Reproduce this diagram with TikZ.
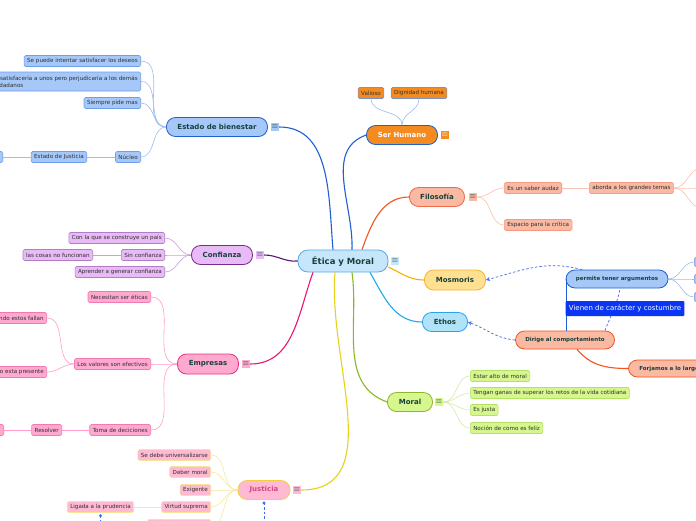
\documentclass[tikz,border=0pt]{standalone}
\usepackage{fontspec}
\setmainfont{DejaVu Sans}
\usetikzlibrary{arrows.meta}

\definecolor{bienfill}{HTML}{A6C8F8}
\definecolor{bienline}{HTML}{1E5FD2}
\definecolor{bienleaf}{HTML}{6E9FEA}
\definecolor{bientwig}{HTML}{9CBDF1}
\definecolor{eticafill}{HTML}{C6E6FB}
\definecolor{eticaline}{HTML}{5AA6E0}
\definecolor{topictext}{HTML}{17403A}
\definecolor{leaftext}{HTML}{2E2E2E}
\definecolor{conffill}{HTML}{E8BAF6}
\definecolor{confline}{HTML}{7A2A8C}
\definecolor{confbranch}{HTML}{5C1470}
\definecolor{confleaf}{HTML}{B47CC8}
\definecolor{conftwig}{HTML}{CC9EDC}
\definecolor{emprfill}{HTML}{FFA8D0}
\definecolor{emprline}{HTML}{E8347F}
\definecolor{emprbranch}{HTML}{EC1470}
\definecolor{emprleaf}{HTML}{F27AB0}
\definecolor{emprtwig}{HTML}{FF9CC8}
\definecolor{justfill}{HTML}{FFB9D2}
\definecolor{justline}{HTML}{F0D040}
\definecolor{justtext}{HTML}{D3488A}
\definecolor{justbranch}{HTML}{E8D218}
\definecolor{justleaf}{HTML}{F7E49A}
\definecolor{justtwig}{HTML}{F6E8A2}
\definecolor{serhfill}{HTML}{F38B20}
\definecolor{serhleaf}{HTML}{7A93C4}
\definecolor{filofill}{HTML}{F9B9A3}
\definecolor{filoline}{HTML}{EF6A4A}
\definecolor{filobranch}{HTML}{F2541E}
\definecolor{filoleaf}{HTML}{F29A82}
\definecolor{filotwig}{HTML}{FBC0AE}
\definecolor{mosmfill}{HTML}{FFDF90}
\definecolor{mosmline}{HTML}{F5B62A}
\definecolor{mosmbranch}{HTML}{F6B000}
\definecolor{ethosfill}{HTML}{B1E3F8}
\definecolor{ethosline}{HTML}{2AA3EC}
\definecolor{ethosbranch}{HTML}{1FA8EE}
\definecolor{moralfill}{HTML}{D6F78E}
\definecolor{moralline}{HTML}{8CB82A}
\definecolor{moralbranch}{HTML}{8AB820}
\definecolor{moralleaf}{HTML}{B5E068}
\definecolor{moraltwig}{HTML}{D5EAA5}
\definecolor{relblue}{HTML}{3F6DF0}
\definecolor{vienenfill}{HTML}{0A35F5}

\begin{document}
\begin{tikzpicture}[x=1pt,y=1pt,
  leaf/.style={draw, rounded corners=1.5pt, line width=0.6pt, inner xsep=3pt, inner ysep=0pt,
    minimum height=11pt, font=\fontsize{5.6}{6.6}\selectfont, text=leaftext},
  topic/.style={draw, rounded corners=9pt, line width=0.8pt, minimum height=19pt,
    font=\bfseries\fontsize{7}{8}\selectfont, text=topictext},
  small topic/.style={topic, minimum height=18pt, font=\bfseries\fontsize{5.5}{6}\selectfont},
  menu/.style={fill=#1, inner sep=0pt, minimum size=8pt, font=\fontsize{8}{8}\selectfont, text=topictext},
  branch/.style={line width=1.1pt},
  twig/.style={line width=0.6pt},
  relation/.style={line width=0.7pt, relblue, dash pattern=on 2.5pt off 2pt, -{Stealth[length=4pt,width=4pt]}}]
\clip (0,0) rectangle (696,-520);
\fill[white] (0,0) rectangle (696,-520);

% centre
\node[topic, fill=eticafill, draw=eticaline, minimum width=90pt, minimum height=22pt, rounded corners=10pt,
  font=\bfseries\fontsize{8.5}{10}\selectfont] (etica) at (343,-261) {Ética y Moral};
\node[menu=eticafill] (eticaM) at (395,-261) {$\equiv$};

% Estado de bienestar
\node[topic, fill=bienfill, draw=bienline, minimum width=101pt] (bien) at (217,-127) {Estado de bienestar};
\node[menu=bienfill] (bienM) at (275,-127) {$\equiv$};
\node[leaf, fill=bienfill, draw=bienleaf, anchor=east] (deseos) at (141,-61) {Se puede intentar satisfacer los deseos};
\node[leaf, fill=bienfill, draw=bienleaf, anchor=east, align=left, minimum height=19pt] (demas) at (141,-81.5)
  {Se satisfacería a unos pero perjudicaría a los demás\\ciudadanos};
\node[leaf, fill=bienfill, draw=bienleaf, anchor=east] (pide) at (141,-103) {Siempre pide mas};
\node[leaf, fill=bienfill, draw=bienleaf, anchor=east] (nucleo) at (141,-157) {Núcleo};
\node[leaf, fill=bienfill, draw=bienleaf, anchor=east] (ejust) at (87,-157) {Estado de Justicia};
\node[leaf, fill=bienfill, draw=bienleaf, anchor=east, minimum width=40pt] (ejustL) at (3,-157) {};
\draw[branch, bienline] ([xshift=-10pt]etica.north) to[out=95,in=0] (bienM.east);
\foreach \n in {deseos,demas,pide,nucleo}
  \draw[twig, bientwig] (bien.west) to[out=180,in=0] (\n.east);
\draw[twig, bientwig] (nucleo.west) -- (ejust.east);
\draw[twig, bientwig] (ejust.west) -- (ejustL.east);

% Confianza
\node[topic, fill=conffill, draw=confline, minimum width=61pt] (conf) at (222,-255) {Confianza};
\node[menu=conffill] (confM) at (260,-255) {$\equiv$};
\node[leaf, fill=conffill, draw=confleaf, anchor=east] (pais) at (165,-238) {Con la que se construye un país};
\node[leaf, fill=conffill, draw=confleaf, anchor=east] (sinconf) at (165,-255) {Sin confianza};
\node[leaf, fill=conffill, draw=confleaf, anchor=east] (generar) at (165,-272) {Aprender a generar confianza};
\node[leaf, fill=conffill, draw=confleaf, anchor=east] (funcionan) at (93,-255) {las cosas no funcionan};
\draw[branch, confbranch] (etica.west) to[out=185,in=0] (confM.east);
\foreach \n in {pais,sinconf,generar}
  \draw[twig, conftwig] (conf.west) to[out=180,in=0] (\n.east);
\draw[twig, conftwig] (sinconf.west) -- (funcionan.east);

% Empresas
\node[topic, fill=emprfill, draw=emprline, minimum width=61pt, minimum height=20pt] (empr) at (208,-364) {Empresas};
\node[menu=emprfill] (emprM) at (246,-364) {$\equiv$};
\node[leaf, fill=emprfill, draw=emprleaf, anchor=east] (eticas) at (151,-297) {Necesitan ser éticas};
\node[leaf, fill=emprfill, draw=emprleaf, anchor=east] (valores) at (151,-364) {Los valores son efectivos};
\node[leaf, fill=emprfill, draw=emprleaf, anchor=east] (toma) at (151,-430) {Toma de deciciones};
\node[leaf, fill=emprfill, draw=emprleaf, anchor=east] (fallan) at (47,-318) {Cuando estos fallan};
\node[leaf, fill=emprfill, draw=emprleaf, anchor=east] (presente) at (47,-372) {Cuando esta presente};
\node[leaf, fill=emprfill, draw=emprleaf, anchor=east] (resolver) at (62,-430) {Resolver};
\node[leaf, fill=emprfill, draw=emprleaf, anchor=east, minimum width=40pt] (resolverL) at (4,-430) {};
\draw[branch, emprbranch] ([xshift=-30pt]etica.south) to[out=-110,in=0] (emprM.east);
\foreach \n in {eticas,valores,toma}
  \draw[twig, emprtwig] (empr.west) to[out=180,in=0] (\n.east);
\foreach \n in {fallan,presente}
  \draw[twig, emprtwig] (valores.west) to[out=180,in=0] (\n.east);
\draw[twig, emprtwig] (toma.west) -- (resolver.east);
\draw[twig, emprtwig] (resolver.west) -- (resolverL.east);

% Justicia
\node[topic, fill=justfill, draw=justline, text=justtext, minimum width=52pt] (just) at (264,-490) {Justicia};
\node[menu=justfill] (justM) at (297,-490) {$\equiv$};
\node[leaf, fill=justfill, draw=justleaf, anchor=east] (univ) at (211,-455) {Se debe universalizarse};
\node[leaf, fill=justfill, draw=justleaf, anchor=east] (deber) at (211,-472) {Deber moral};
\node[leaf, fill=justfill, draw=justleaf, anchor=east] (exig) at (211,-490) {Exigente};
\node[leaf, fill=justfill, draw=justleaf, anchor=east] (virtud) at (211,-507) {Virtud suprema};
\node[leaf, fill=justfill, draw=justleaf, anchor=north east, minimum width=63pt] (justL) at (211,-519) {};
\node[leaf, fill=justfill, draw=justleaf, anchor=east] (prudencia) at (134,-507) {Ligada a la prudencia};
\draw[branch, justbranch] ([xshift=-8pt]etica.south) to[out=-95,in=0] (justM.east);
\foreach \n in {univ,deber,exig,virtud,justL}
  \draw[twig, justtwig] (just.west) to[out=180,in=0] (\n.east);
\draw[twig, justtwig] (virtud.west) -- (prudencia.east);
\coordinate (justDot) at ([yshift=-3pt]just.south);
\coordinate (prudDot) at ([yshift=-3pt]prudencia.south);
\draw[relblue, line width=0.7pt, dash pattern=on 2.5pt off 2pt] (justDot) -- ++(0,-30);
\draw[relblue, line width=0.7pt, dash pattern=on 2.5pt off 2pt] (prudDot) -- ++(0,-30);
\fill[relblue] (justDot) circle (1.6);
\fill[relblue] (prudDot) circle (1.6);

% Ser Humano
\node[topic, fill=serhfill, draw=bienline, text=white, minimum width=71pt] (serh) at (402,-135) {Ser Humano};
\node[menu=serhfill, text=white] (serhM) at (445,-135) {$\equiv$};
\node[leaf, fill=serhfill, draw=serhleaf, text=black!80] (valioso) at (371,-93) {Valioso};
\node[leaf, fill=serhfill, draw=serhleaf, text=black!80] (dignidad) at (419,-93) {Dignidad humana};
\draw[branch, bienline] ([xshift=9pt]etica.north) to[out=88,in=200] (serh.west);
\foreach \n in {valioso,dignidad}
  \draw[twig, bientwig] (serh.north) to[out=90,in=-90] (\n.south);

% Filosofia
\node[topic, fill=filofill, draw=filoline, minimum width=55pt] (filo) at (437,-197) {Filosofía};
\node[menu=filofill] (filoM) at (473,-197) {$\equiv$};
\node[leaf, fill=filofill, draw=filoleaf, anchor=west] (audaz) at (504,-188) {Es un saber audaz};
\node[leaf, fill=filofill, draw=filoleaf, anchor=west] (temas) at (589,-188) {aborda a los grandes temas};
\node[leaf, fill=filofill, draw=filoleaf, anchor=west] (critica) at (504,-225) {Espacio para la crítica};
\coordinate (temasA) at (702,-168);
\coordinate (temasB) at (702,-188);
\coordinate (temasC) at (702,-208);
\draw[branch, filobranch] ([xshift=19pt]etica.north) to[out=70,in=180] (filo.west);
\foreach \n in {audaz,critica}
  \draw[twig, filotwig] (filoM.east) to[out=0,in=180] (\n.west);
\draw[twig, filotwig] (audaz.east) -- (temas.west);
\foreach \n in {temasA,temasB,temasC}
  \draw[twig, filotwig] (temas.east) to[out=0,in=180] (\n);

% Mosmoris, Ethos
\node[topic, fill=mosmfill, draw=mosmline, minimum width=61pt, minimum height=20pt] (mosm) at (455,-280) {Mosmoris};
\node[topic, fill=ethosfill, draw=ethosline, minimum width=45pt] (ethos) at (445,-322) {Ethos};
\draw[branch, mosmbranch] ([yshift=-6pt]etica.east) to[out=-25,in=180] (mosm.west);
\draw[branch, ethosbranch] ([xshift=27pt]etica.south) to[out=-60,in=180] (ethos.west);

% Moral
\node[topic, fill=moralfill, draw=moralline, minimum width=45pt] (moral) at (410,-402) {Moral};
\node[menu=moralfill] (moralM) at (439,-402) {$\equiv$};
\node[leaf, fill=moralfill, draw=moralleaf, anchor=west] (alto) at (470,-376) {Estar alto de moral};
\node[leaf, fill=moralfill, draw=moralleaf, anchor=west] (retos) at (470,-393) {Tengan ganas de superar los retos de la vida cotidiana};
\node[leaf, fill=moralfill, draw=moralleaf, anchor=west] (justa) at (470,-410) {Es justa};
\node[leaf, fill=moralfill, draw=moralleaf, anchor=west] (feliz) at (470,-428) {Noción de como es feliz};
\draw[branch, moralbranch] ([xshift=9pt]etica.south) to[out=-82,in=160] (moral.west);
\foreach \n in {alto,retos,justa,feliz}
  \draw[twig, moraltwig] (moralM.east) to[out=0,in=180] (\n.west);

% floating topics
\node[small topic, fill=bienfill, draw=bienline, minimum width=102pt] (permite) at (617,-279) {permite tener argumentos};
\node[small topic, fill=filofill, draw=filobranch, minimum width=99pt] (dirige) at (565,-340) {Dirige al comportamiento};
\node[small topic, fill=filofill, draw=filobranch, anchor=west, inner xsep=11pt, minimum height=17pt] (forjamos) at (628,-368.5) {Forjamos a lo largo de la vida};
\node[leaf, fill=bienfill, draw=bienleaf, anchor=west, minimum width=30pt, minimum height=9pt] (argA) at (694,-262) {};
\node[leaf, fill=bienfill, draw=bienleaf, anchor=west, minimum width=30pt, minimum height=9pt] (argB) at (694,-279) {};
\node[leaf, fill=bienfill, draw=bienleaf, anchor=west, minimum width=30pt, minimum height=9pt] (argC) at (694,-297) {};
\foreach \n in {argA,argB,argC}
  \draw[twig, bientwig] (permite.east) to[out=0,in=180] (\n.west);
\draw[branch, bienline] ([xshift=0.6pt]permite.west) -- ([xshift=0.6pt]permite.west |- dirige.north);
\draw[branch, filobranch] ([xshift=12pt]dirige.south) to[out=-50,in=180] (forjamos.west);
\draw[relation] ([xshift=-35pt]permite.north) to[out=165,in=15] (mosm.east);
\draw[relation] (dirige.west) to[out=175,in=-20] (ethos.east);
\draw[relation, -] ([xshift=40pt]dirige.north) to[out=70,in=-100] ([xshift=3pt]permite.south);
\node[fill=vienenfill, text=white, rounded corners=1pt, minimum width=116pt, minimum height=15pt,
  font=\fontsize{7}{8}\selectfont] (vienen) at (625,-308.5) {Vienen de carácter y costumbre};
\end{tikzpicture}
\end{document}
